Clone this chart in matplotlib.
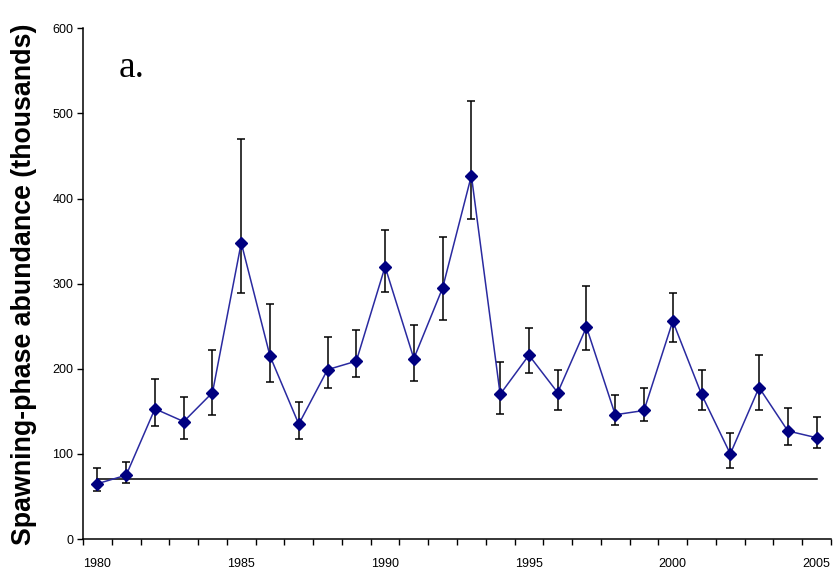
import matplotlib
matplotlib.use("Agg")
import matplotlib.pyplot as plt
import numpy as np

years = list(range(1980, 2006))
abundance = [65, 75, 153, 138, 172, 348, 215, 135, 199, 209,
             320, 212, 295, 427, 170, 216, 172, 249, 146, 151,
             256, 170, 100, 178, 127, 119]
upper = [84, 90, 188, 167, 222, 470, 276, 161, 237, 246,
         363, 252, 355, 515, 208, 248, 199, 297, 169, 177,
         289, 199, 124, 216, 154, 143]
lower = [56, 66, 133, 118, 146, 289, 184, 118, 177, 190,
         290, 186, 257, 376, 147, 195, 152, 222, 134, 139,
         231, 152, 83, 152, 111, 107]
reference_level = 71
ylabel = "Spawning-phase abundance (thousands)"
panel = "a."

fig = plt.figure(figsize=(8.36, 5.71), dpi=100)
ax = fig.add_axes([0.0993, 0.056, 0.8947, 0.8944])

yerr = np.array([np.array(abundance) - np.array(lower),
                 np.array(upper) - np.array(abundance)])
ax.errorbar(years, abundance, yerr=yerr, fmt='none', ecolor='black',
            elinewidth=1.1, capsize=3, capthick=1.1, zorder=2)
ax.plot(years, abundance, color='#2a2aa0', lw=1.1, zorder=3)
ax.plot(years, abundance, linestyle='none', marker='D', markersize=6.5,
        color='#000080', zorder=4)
ax.plot([years[0], years[-1]], [reference_level, reference_level],
        color='black', lw=1.1, zorder=1)

ax.set_xlim(years[0] - 0.5, years[-1] + 0.5)
ax.set_ylim(0, 600)
ax.set_yticks(range(0, 601, 100))
ax.set_xticks([y for y in years if y % 5 == 0])
ax.set_xticks([y - 0.5 for y in years] + [years[-1] + 0.5], minor=True)
ax.tick_params(axis='x', which='major', length=0, pad=14, labelsize=9)
ax.tick_params(axis='x', which='minor', length=4, width=1, direction='out')
ax.tick_params(axis='y', which='major', length=4, width=1, direction='out',
               labelsize=9, pad=3)
for lab in ax.get_xticklabels() + ax.get_yticklabels():
    lab.set_family('Liberation Sans')

for s in ['top', 'right']:
    ax.spines[s].set_visible(False)
for s in ['left', 'bottom']:
    ax.spines[s].set_linewidth(1.1)
    ax.spines[s].set_color('black')

fig.text(0.029, 0.503, ylabel, rotation=90, ha='center', va='center',
         fontsize=19.3, fontweight='bold', family='Liberation Sans')
ax.text(0.047, 0.905, panel, transform=ax.transAxes, fontsize=27,
        family='Liberation Serif', ha='left', va='baseline')

fig.savefig("out.png", dpi=100)
